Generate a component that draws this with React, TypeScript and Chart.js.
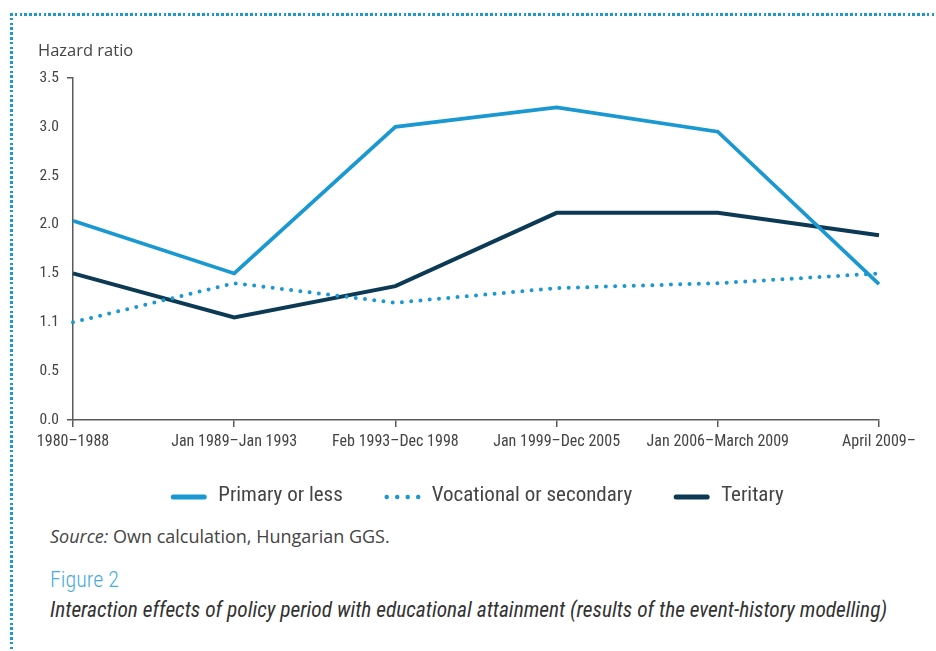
import React, { useEffect, useRef } from "react";
import { Chart, registerables } from "chart.js";

Chart.register(...registerables);

const categories = [
  "1980–1988",
  "Jan 1989–Jan 1993",
  "Feb 1993–Dec 1998",
  "Jan 1999–Dec 2005",
  "Jan 2006–March 2009",
  "April 2009–",
];
const primaryOrLess = [2.04, 1.5, 3.0, 3.2, 2.95, 1.39];
const vocationalOrSecondary = [1.0, 1.4, 1.2, 1.35, 1.4, 1.5];
const teritary = [1.5, 1.05, 1.37, 2.12, 2.12, 1.89];
const yTickValues = [0, 0.5, 1, 1.5, 2, 2.5, 3, 3.5];
const yTickLabels = ["0.0", "0.5", "1.1", "1.5", "2.0", "2.5", "3.0", "3.5"];
const seriesNames = ["Primary or less", "Vocational or secondary", "Teritary"];

const COND = '"Roboto Condensed", "DejaVu Sans Condensed", sans-serif';
const BLUE = "#1a98d1";
const NAVY = "#0c3a55";
const AXIS = "#5a5a5a";
const TEXT = "#444";

// Custom legend drawn below the x axis, using each dataset's own style
const bottomLegend = {
  id: "bottomLegend",
  afterDraw(chart: any) {
    const { ctx, chartArea } = chart;
    const datasets = chart.data.datasets;
    const sampleW = 33;
    const textGap = 13;
    const itemGap = 43;
    ctx.save();
    ctx.font = `21px ${COND}`;
    const widths = datasets.map((d: any) => ctx.measureText(d.label).width);
    const total =
      widths.reduce((a: number, w: number) => a + sampleW + textGap + w, 0) +
      itemGap * (datasets.length - 1);
    let x = (chartArea.left + chartArea.right) / 2 + 2 - total / 2;
    const y = chartArea.bottom + 76;
    datasets.forEach((d: any, i: number) => {
      ctx.beginPath();
      ctx.strokeStyle = d.borderColor;
      ctx.lineCap = "round";
      if (d.borderDash && d.borderDash.length) {
        ctx.lineWidth = 4.5;
        ctx.setLineDash([0, 10.5]);
        ctx.moveTo(x + 1, y + 1);
        ctx.lineTo(x + sampleW, y + 1);
      } else {
        ctx.lineWidth = 5;
        ctx.setLineDash([]);
        ctx.moveTo(x + 1, y + 1);
        ctx.lineTo(x + sampleW - 1, y + 1);
      }
      ctx.stroke();
      ctx.setLineDash([]);
      ctx.fillStyle = TEXT;
      ctx.textBaseline = "middle";
      ctx.textAlign = "left";
      ctx.fillText(d.label, x + sampleW + textGap, y);
      x += sampleW + textGap + widths[i] + itemGap;
    });
    ctx.restore();
  },
};

export default function App() {
  const ref = useRef<HTMLCanvasElement | null>(null);

  useEffect(() => {
    if (!ref.current) return;
    const chart = new Chart(ref.current, {
      type: "line",
      data: {
        labels: categories,
        datasets: [
          {
            label: seriesNames[0],
            data: primaryOrLess,
            borderColor: BLUE,
            backgroundColor: BLUE,
            borderWidth: 3.7,
            pointRadius: 0,
            tension: 0,
          },
          {
            label: seriesNames[1],
            data: vocationalOrSecondary,
            borderColor: BLUE,
            backgroundColor: BLUE,
            borderWidth: 4,
            borderDash: [0, 9.3],
            borderCapStyle: "round",
            pointRadius: 0,
            tension: 0,
          },
          {
            label: seriesNames[2],
            data: teritary,
            borderColor: NAVY,
            backgroundColor: NAVY,
            borderWidth: 4,
            pointRadius: 0,
            tension: 0,
          },
        ],
      },
      plugins: [bottomLegend],
      options: {
        responsive: false,
        animation: false,
        devicePixelRatio: 1,
        layout: { padding: { left: 0, right: 57, top: 78, bottom: 0 } },
        plugins: {
          tooltip: { enabled: false },
          legend: { display: false },
        },
        scales: {
          x: {
            type: "category",
            offset: false,
            grid: {
              drawOnChartArea: false,
              drawTicks: true,
              tickLength: 7,
              color: AXIS,
              lineWidth: 1.5,
            },
            border: { display: true, color: AXIS, width: 1.5 },
            ticks: {
              color: TEXT,
              padding: 5,
              maxRotation: 0,
              autoSkip: false,
              font: { family: COND, size: 16 },
            },
            afterFit: (s: any) => {
              s.height = 100;
            },
          },
          y: {
            min: 0,
            max: 3.5,
            grid: {
              drawOnChartArea: false,
              drawTicks: true,
              tickLength: 6,
              lineWidth: 1.5,
              color: (c: any) =>
                c.tick && (c.tick.value === 0 || c.tick.value === 3.5) ? AXIS : "rgba(0,0,0,0)",
            },
            border: { display: true, color: AXIS, width: 1.5 },
            afterBuildTicks: (s: any) => {
              s.ticks = yTickValues.map((v) => ({ value: v }));
            },
            ticks: {
              color: TEXT,
              padding: 8,
              font: { family: COND, size: 15.5 },
              callback: (v: any) => {
                const i = yTickValues.indexOf(Number(v));
                return i >= 0 ? yTickLabels[i] : "";
              },
            },
            afterFit: (s: any) => {
              s.width = 73;
            },
          },
        },
      },
    });
    return () => chart.destroy();
  }, []);

  return (
    <div
      style={{
        position: "absolute",
        left: 0,
        top: 0,
        width: 936,
        height: 651,
        background: "#fff",
        overflow: "hidden",
      }}
    >
      <div
        style={{
          position: "absolute",
          left: 10,
          top: 13,
          width: 926,
          height: 3,
          backgroundImage: `repeating-linear-gradient(to right, ${BLUE} 0px, ${BLUE} 2.6px, transparent 2.6px, transparent 4.8px)`,
        }}
      />
      <div
        style={{
          position: "absolute",
          left: 10,
          top: 13,
          width: 3,
          height: 640,
          backgroundImage: `repeating-linear-gradient(to bottom, ${BLUE} 0px, ${BLUE} 2.6px, transparent 2.6px, transparent 4.8px)`,
        }}
      />
      <canvas
        ref={ref}
        width={936}
        height={520}
        style={{ position: "absolute", left: 0, top: 0, display: "block" }}
      />
      <div
        style={{
          position: "absolute",
          left: 38,
          top: 39,
          fontFamily: '"Open Sans", sans-serif',
          fontSize: 16.5,
          color: TEXT,
          lineHeight: "22px",
        }}
      >
        Hazard ratio
      </div>
      <div
        style={{
          position: "absolute",
          left: 50,
          top: 524,
          fontFamily: '"Open Sans", sans-serif',
          fontSize: 18,
          color: TEXT,
          lineHeight: "24px",
          whiteSpace: "nowrap",
        }}
      >
        <i>Source:</i> Own calculation, Hungarian GGS.
      </div>
      <div
        style={{
          position: "absolute",
          left: 50,
          top: 566,
          fontFamily: COND,
          fontWeight: 300,
          fontSize: 22,
          color: "#48acd9",
          lineHeight: "28px",
          whiteSpace: "nowrap",
        }}
      >
        Figure 2
      </div>
      <div
        style={{
          position: "absolute",
          left: 50,
          top: 596,
          fontFamily: COND,
          fontStyle: "italic",
          fontWeight: 400,
          fontSize: 21.4,
          color: "#333",
          lineHeight: "28px",
          whiteSpace: "nowrap",
        }}
      >
        Interaction effects of policy period with educational attainment (results of the event-history modelling)
      </div>
    </div>
  );
}
